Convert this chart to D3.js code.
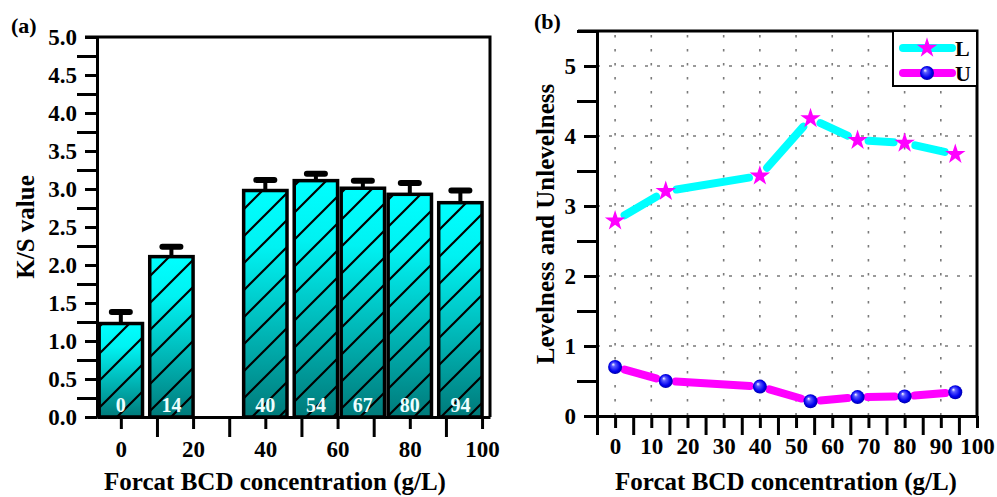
<!DOCTYPE html>
<html>
<head>
<meta charset="utf-8">
<script src="https://cdn.jsdelivr.net/npm/d3@7"></script>
<style>
  body { margin: 0; background: #fff; }
  svg { display: block; font-family: 'Liberation Serif', 'Times New Roman', serif; font-weight: bold; }
</style>
</head>
<body>
<div id="chart"></div>
<script>
// data
var conc = [0, 14, 40, 54, 67, 80, 94]
var ksValue = [1.23, 2.11, 2.98, 3.11, 3.01, 2.93, 2.82]
var ksErr = [0.15, 0.13, 0.14, 0.09, 0.10, 0.15, 0.16]
var levelL = [2.79, 3.21, 3.43, 4.25, 3.94, 3.90, 3.74]
var levelU = [0.70, 0.50, 0.42, 0.21, 0.27, 0.28, 0.34]

var ksMajor = d3.range(0, 5.01, 0.5)
var ksMinor = d3.range(0.25, 5, 0.5)
var xaMajor = [0, 20, 40, 60, 80, 100]
var xaMinor = [10, 30, 50, 70, 90]
var lvMajor = [0, 1, 2, 3, 4, 5]
var lvMinor = [0.5, 1.5, 2.5, 3.5, 4.5, 5.5]
var xbMajor = d3.range(0, 101, 10)
var xbMinor = d3.range(-5, 100, 10)

var W = 997, H = 497
var tickFont = 23, titleFont = 25

var svg = d3.select('#chart')
    .append('svg')
    .attr('width', W)
    .attr('height', H)

var defs = svg.append('defs')

// bar gradient
var grad = defs.append('linearGradient')
    .attr('id', 'barGrad')
    .attr('x1', 0).attr('y1', 0).attr('x2', 0).attr('y2', 1)
grad.append('stop').attr('offset', '0%').attr('stop-color', '#00ffff')
grad.append('stop').attr('offset', '25%').attr('stop-color', '#00f2f2')
grad.append('stop').attr('offset', '100%').attr('stop-color', '#007a7a')

// hatch
var hatch = defs.append('pattern')
    .attr('id', 'hatch')
    .attr('patternUnits', 'userSpaceOnUse')
    .attr('width', 27).attr('height', 27)
    .attr('x', 21)
hatch.append('path')
    .attr('d', 'M-3,3 L3,-3 M0,27 L27,0 M24,30 L30,24')
    .attr('stroke', '#000')
    .attr('stroke-width', 2.2)

// sphere
var sph = defs.append('radialGradient')
    .attr('id', 'sphere')
    .attr('cx', '50%').attr('cy', '50%').attr('r', '55%')
    .attr('fx', '35%').attr('fy', '30%')
sph.append('stop').attr('offset', '0%').attr('stop-color', '#ffffff')
sph.append('stop').attr('offset', '25%').attr('stop-color', '#5a5aff')
sph.append('stop').attr('offset', '70%').attr('stop-color', '#0000ee')
sph.append('stop').attr('offset', '100%').attr('stop-color', '#00009a')

function styleAxis(g) {
    g.selectAll('line').attr('stroke', '#000').attr('stroke-width', 3)
    g.selectAll('path').attr('stroke', '#000').attr('stroke-width', 3)
    g.selectAll('text')
        .attr('fill', '#000')
        .style('font-size', tickFont + 'px')
        .style('font-family', "'Liberation Serif', 'Times New Roman', serif")
        .style('font-weight', 'bold')
}

// ---------- panel (a) ----------
var xa = d3.scaleLinear().domain([-6.6, 102.2]).range([97, 490])
var ya = d3.scaleLinear().domain([0, 5]).range([417, 37])
var halfW = 6

var gA = svg.append('g')

var bars = gA.selectAll('.bar')
    .data(conc)
    .enter()
    .append('g')
    .attr('class', 'bar')

bars.append('rect')
    .attr('x', d => xa(d - halfW))
    .attr('width', d => xa(d + halfW) - xa(d - halfW))
    .attr('y', (d, i) => ya(ksValue[i]))
    .attr('height', (d, i) => ya(0) - ya(ksValue[i]))
    .attr('fill', 'url(#barGrad)')

bars.append('rect')
    .attr('x', d => xa(d - halfW))
    .attr('width', d => xa(d + halfW) - xa(d - halfW))
    .attr('y', (d, i) => ya(ksValue[i]))
    .attr('height', (d, i) => ya(0) - ya(ksValue[i]))
    .attr('fill', 'url(#hatch)')
    .attr('stroke', '#000')
    .attr('stroke-width', 3.5)

// error bars
bars.append('line')
    .attr('x1', d => xa(d)).attr('x2', d => xa(d))
    .attr('y1', (d, i) => ya(ksValue[i]))
    .attr('y2', (d, i) => ya(ksValue[i] + ksErr[i]))
    .attr('stroke', '#000').attr('stroke-width', 4)

bars.append('line')
    .attr('x1', d => xa(d) - 9).attr('x2', d => xa(d) + 9)
    .attr('y1', (d, i) => ya(ksValue[i] + ksErr[i]))
    .attr('y2', (d, i) => ya(ksValue[i] + ksErr[i]))
    .attr('stroke', '#000').attr('stroke-width', 6)
    .attr('stroke-linecap', 'round')

bars.append('text')
    .text(d => d)
    .attr('x', d => xa(d))
    .attr('y', 412)
    .attr('text-anchor', 'middle')
    .attr('fill', '#eefefe')
    .style('font-size', '20px')

// frame
gA.append('path')
    .attr('d', `M85,${ya(5)} H${xa.range()[1]} V${ya(0)}`)
    .attr('fill', 'none').attr('stroke', '#000').attr('stroke-width', 3)

// axes
var yaMaj = gA.append('g').attr('transform', 'translate(97,0)')
    .call(d3.axisLeft(ya).tickValues(ksMajor).tickFormat(d3.format('.1f')).tickSize(12).tickSizeOuter(0).tickPadding(8))
styleAxis(yaMaj)
var yaMin = gA.append('g').attr('transform', 'translate(97,0)')
    .call(d3.axisLeft(ya).tickValues(ksMinor).tickFormat('').tickSize(20).tickSizeOuter(0))
yaMin.select('.domain').remove()
styleAxis(yaMin)

var xaMaj = gA.append('g').attr('transform', `translate(0,${ya(0)})`)
    .call(d3.axisBottom(xa).tickValues(xaMajor).tickSize(12).tickSizeOuter(0).tickPadding(12))
styleAxis(xaMaj)
var xaMin = gA.append('g').attr('transform', `translate(0,${ya(0)})`)
    .call(d3.axisBottom(xa).tickValues(xaMinor).tickFormat('').tickSize(20).tickSizeOuter(0))
xaMin.select('.domain').remove()
styleAxis(xaMin)

gA.append('text')
    .text('K/S value')
    .attr('text-anchor', 'middle')
    .attr('transform', 'translate(34,227) rotate(-90)')
    .style('font-size', titleFont + 'px')

gA.append('text')
    .text('Forcat BCD concentration (g/L)')
    .attr('text-anchor', 'middle')
    .attr('x', 275).attr('y', 490)
    .style('font-size', titleFont + 'px')

gA.append('text')
    .text('(a)')
    .attr('x', 11).attr('y', 33)
    .style('font-size', '22px')

// ---------- panel (b) ----------
var xb = d3.scaleLinear().domain([-5, 100]).range([597, 977])
var yb = d3.scaleLinear().domain([0, 5.5]).range([416, 31])

var gB = svg.append('g')

// grid
gB.selectAll('.vgrid')
    .data(d3.range(0, 91, 10))
    .enter()
    .append('line')
    .attr('x1', d => xb(d)).attr('x2', d => xb(d))
    .attr('y1', yb(5.5)).attr('y2', yb(0))
    .attr('stroke', '#7a7a7a').attr('stroke-width', 1.6)
    .attr('stroke-dasharray', '2.5,11.5')
    .attr('stroke-dashoffset', -4)

gB.selectAll('.hgrid')
    .data(d3.range(1, 6))
    .enter()
    .append('line')
    .attr('x1', xb(-5)).attr('x2', xb(100))
    .attr('y1', d => yb(d)).attr('y2', d => yb(d))
    .attr('stroke', '#7a7a7a').attr('stroke-width', 1.6)
    .attr('stroke-dasharray', '3,9')

// segments with gaps around markers
function drawSeries(vals, color, gap) {
    var pts = conc.map((c, i) => [xb(c), yb(vals[i])])
    var segs = []
    for (var i = 0; i < pts.length - 1; i++) {
        var a = pts[i], b = pts[i + 1]
        var dx = b[0] - a[0], dy = b[1] - a[1]
        var len = Math.sqrt(dx * dx + dy * dy)
        var ux = dx / len, uy = dy / len
        segs.push([a[0] + ux * gap, a[1] + uy * gap, b[0] - ux * gap, b[1] - uy * gap])
    }
    gB.append('g').selectAll('line')
        .data(segs)
        .enter()
        .append('line')
        .attr('x1', d => d[0]).attr('y1', d => d[1])
        .attr('x2', d => d[2]).attr('y2', d => d[3])
        .attr('stroke', color)
        .attr('stroke-width', 8)
        .attr('stroke-linecap', 'round')
}

drawSeries(levelL, '#00ffff', 11)
drawSeries(levelU, '#ff00ff', 10)

var star = d3.symbol().type(d3.symbolStar).size(130)

gB.selectAll('.star')
    .data(conc)
    .enter()
    .append('path')
    .attr('d', star)
    .attr('transform', (d, i) => `translate(${xb(d)},${yb(levelL[i])})`)
    .attr('fill', '#ff00ff')

gB.selectAll('.ball')
    .data(conc)
    .enter()
    .append('circle')
    .attr('cx', d => xb(d))
    .attr('cy', (d, i) => yb(levelU[i]))
    .attr('r', 7)
    .attr('fill', 'url(#sphere)')

// frame
gB.append('path')
    .attr('d', `M578,${yb(5.5)} H${xb(100)} V${yb(0)}`)
    .attr('fill', 'none').attr('stroke', '#000').attr('stroke-width', 3)

var ybMaj = gB.append('g').attr('transform', `translate(${xb(-5)},0)`)
    .call(d3.axisLeft(yb).tickValues(lvMajor).tickFormat(d3.format('d')).tickSize(13).tickSizeOuter(0).tickPadding(8))
styleAxis(ybMaj)
var ybMin = gB.append('g').attr('transform', `translate(${xb(-5)},0)`)
    .call(d3.axisLeft(yb).tickValues(lvMinor).tickFormat('').tickSize(20).tickSizeOuter(0))
ybMin.select('.domain').remove()
styleAxis(ybMin)

var xbMaj = gB.append('g').attr('transform', `translate(0,${yb(0)})`)
    .call(d3.axisBottom(xb).tickValues(xbMajor).tickFormat(d3.format('d')).tickSize(12).tickSizeOuter(0).tickPadding(10))
styleAxis(xbMaj)
var xbMin = gB.append('g').attr('transform', `translate(0,${yb(0)})`)
    .call(d3.axisBottom(xb).tickValues(xbMinor).tickFormat('').tickSize(19).tickSizeOuter(0))
xbMin.select('.domain').remove()
styleAxis(xbMin)

// legend
var lg = gB.append('g')
lg.append('rect')
    .attr('x', 893).attr('y', yb(5.5))
    .attr('width', xb(100) - 893).attr('height', 86 - yb(5.5))
    .attr('fill', '#fff').attr('stroke', '#000').attr('stroke-width', 2)

var legendItems = [
    {name: 'L', color: '#00ffff', y: 48},
    {name: 'U', color: '#ff00ff', y: 73}
]
legendItems.forEach(function (it, i) {
    lg.append('line')
        .attr('x1', 903).attr('x2', 952)
        .attr('y1', it.y).attr('y2', it.y)
        .attr('stroke', it.color).attr('stroke-width', 8)
        .attr('stroke-linecap', 'round')
    if (i === 0) {
        lg.append('path').attr('d', star)
            .attr('transform', `translate(927,${it.y})`)
            .attr('fill', '#ff00ff')
    } else {
        lg.append('circle').attr('cx', 927).attr('cy', it.y).attr('r', 7)
            .attr('fill', 'url(#sphere)')
    }
    lg.append('text')
        .text(it.name)
        .attr('x', 955).attr('y', it.y + 8)
        .style('font-size', '22px')
})

gB.append('text')
    .text('Levelness and Unlevelness')
    .attr('text-anchor', 'middle')
    .attr('transform', 'translate(554,224) rotate(-90)')
    .style('font-size', titleFont + 'px')

gB.append('text')
    .text('Forcat BCD concentration (g/L)')
    .attr('text-anchor', 'middle')
    .attr('x', 786).attr('y', 490)
    .style('font-size', titleFont + 'px')

gB.append('text')
    .text('(b)')
    .attr('x', 534).attr('y', 29)
    .style('font-size', '22px')
</script>
</body>
</html>
